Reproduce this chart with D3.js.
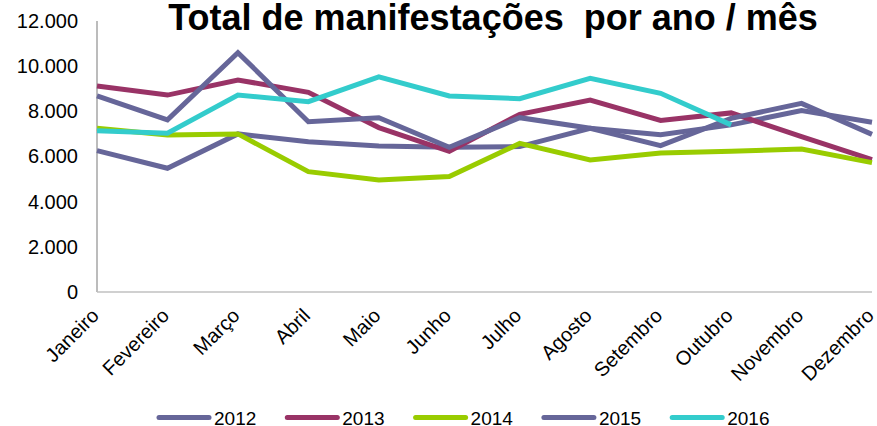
<!DOCTYPE html>
<html>
<head>
<meta charset="utf-8">
<script src="https://cdn.jsdelivr.net/npm/d3@7"></script>
<style>
  body { margin: 0; background: #fff; }
  svg { display: block; font-family: "Liberation Sans", Arial, sans-serif; }
  .axis path, .axis line { stroke: none; }
  .axis text { fill: #000; }
</style>
</head>
<body>
<svg id="chart" width="877" height="426"></svg>
<script>
const months = ['Janeiro', 'Fevereiro', 'Março', 'Abril', 'Maio', 'Junho',
  'Julho', 'Agosto', 'Setembro', 'Outubro', 'Novembro', 'Dezembro'];
const years = ['2012', '2013', '2014', '2015', '2016'];
const values2012 = [6260, 5480, 7000, 6650, 6470, 6410, 6440, 7250, 6960, 7400, 8030, 7520];
const values2013 = [9120, 8720, 9390, 8840, 7280, 6230, 7870, 8500, 7600, 7930, 6880, 5860];
const values2014 = [7250, 6950, 7000, 5330, 4960, 5110, 6580, 5850, 6150, 6230, 6330, 5730];
const values2015 = [8680, 7620, 10600, 7540, 7720, 6410, 7720, 7250, 6480, 7690, 8350, 6980];
const values2016 = [7140, 7030, 8720, 8430, 9530, 8680, 8560, 9460, 8800, 7400, null, null];
const yTicks = [0, 2000, 4000, 6000, 8000, 10000, 12000];
const colors = ['#666699', '#993366', '#99CC00', '#666699', '#33CCCC'];

const seriesValues = [values2012, values2013, values2014, values2015, values2016];
const series = years.map((y, i) => ({ name: y, color: colors[i], values: seriesValues[i] }));

const svg = d3.select('#chart');
const ptBR = d3.formatLocale({ decimal: ',', thousands: '.', grouping: [3], currency: ['R$', ''] });
const fmt = ptBR.format(',d');

const x = d3.scalePoint().domain(months).range([97, 872]);
const y = d3.scaleLinear().domain([0, 12000]).range([292, 21]);

// title (keeps the double space of the original)
svg.append('text')
  .attr('x', 493).attr('y', 30)
  .attr('text-anchor', 'middle')
  .style('font-size', '36px').style('font-weight', 'bold')
  .style('white-space', 'pre')
  .text('Total de manifestações  por ano / mês');

// axes lines
svg.append('line')
  .attr('x1', 97).attr('x2', 97).attr('y1', y(12000)).attr('y2', y(0))
  .attr('stroke', '#a6a6a6').attr('stroke-width', 1.5);
svg.append('line')
  .attr('x1', 97).attr('x2', 872).attr('y1', y(0)).attr('y2', y(0))
  .attr('stroke', '#c0c0c0').attr('stroke-width', 1.5);

// y axis labels
const yAxis = svg.append('g').attr('class', 'axis')
  .attr('transform', 'translate(97,0)')
  .call(d3.axisLeft(y).tickValues(yTicks).tickFormat(fmt).tickSize(0).tickPadding(19));
yAxis.selectAll('text').style('font-size', '20px');

// x labels, rotated
svg.append('g').selectAll('text').data(months).join('text')
  .attr('transform', d => `translate(${x(d) + 3},317) rotate(-45)`)
  .attr('text-anchor', 'end')
  .style('font-size', '20px')
  .text(d => d);

// lines
const line = d3.line()
  .defined(d => d.v != null)
  .x(d => x(d.m))
  .y(d => y(d.v));

svg.append('g').selectAll('path').data(series).join('path')
  .attr('d', s => line(s.values.map((v, i) => ({ m: months[i], v }))))
  .attr('fill', 'none')
  .attr('stroke', s => s.color)
  .attr('stroke-width', 5)
  .attr('stroke-linejoin', 'miter');

// legend
const legend = svg.append('g').selectAll('g').data(series).join('g')
  .attr('transform', (d, i) => `translate(${157 + i * 128.3},417.5)`);
legend.append('line')
  .attr('x1', 2).attr('x2', 52)
  .attr('stroke', d => d.color).attr('stroke-width', 5).attr('stroke-linecap', 'round');
legend.append('text')
  .attr('x', 57).attr('y', 7)
  .style('font-size', '19px')
  .text(d => d.name);
</script>
</body>
</html>
